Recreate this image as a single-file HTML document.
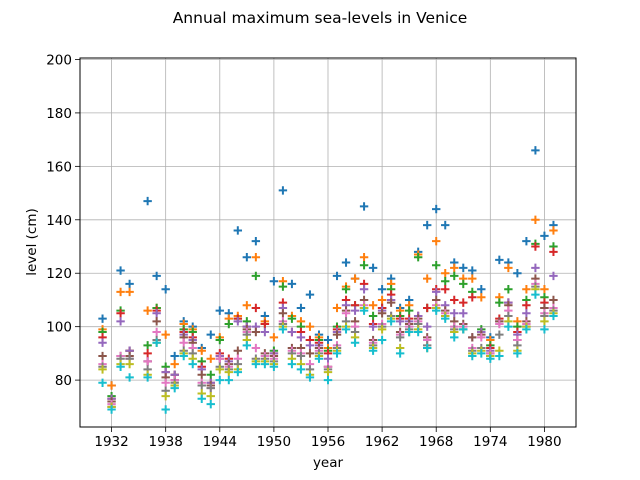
<!DOCTYPE html>
<html><head><meta charset="utf-8"><style>
body{margin:0;background:#fff;}
svg{display:block;font-family:"DejaVu Sans","Liberation Sans",sans-serif;}
</style></head><body>
<svg id="chart" width="640" height="480" viewBox="0 0 640 480" xmlns="http://www.w3.org/2000/svg">
<rect width="640" height="480" fill="#fff"/>
<text x="320" y="23" text-anchor="middle" font-size="15.5" fill="#000">Annual maximum sea-levels in Venice</text>
<g id="grid"></g>
<g id="marks"></g>
<rect x="80" y="58" width="496" height="369" fill="none" stroke="#000" stroke-width="1"/>
<g id="ticks"></g>
<text x="328" y="467" text-anchor="middle" font-size="13.5">year</text>
<text transform="translate(36,242) rotate(-90)" text-anchor="middle" font-size="13.5">level (cm)</text>
</svg>
<script>
const years = [1931,1932,1933,1934,1936,1937,1938,1939,1940,1941,1942,1943,1944,1945,1946,1947,1948,1949,1950,1951,1952,1953,1954,1955,1956,1957,1958,1959,1960,1961,1962,1963,1964,1965,1966,1967,1968,1969,1970,1971,1972,1973,1974,1975,1976,1977,1978,1979,1980,1981];
const levels = [
[103,99,98,96,94,89,86,85,84,79],
[78,78,74,73,73,72,71,70,70,69],
[121,113,106,105,102,89,89,88,86,85],
[116,113,91,91,91,89,88,88,86,81],
[147,106,93,90,87,87,87,84,82,81],
[119,107,107,106,105,102,98,95,94,94],
[114,97,85,83,83,81,79,76,74,69],
[89,86,82,82,82,80,80,79,78,77],
[102,101,99,98,97,96,94,91,90,89],
[100,99,98,96,95,94,92,90,88,86],
[92,91,87,85,84,82,79,78,75,73],
[97,88,82,79,79,78,77,77,74,71],
[106,96,95,90,89,88,88,85,84,80],
[105,103,101,88,87,86,85,84,83,80],
[136,104,103,103,102,91,88,86,84,83],
[126,108,102,100,100,99,98,97,95,93],
[132,126,119,107,100,98,92,88,87,86],
[104,102,101,101,98,90,89,88,87,86],
[117,96,91,90,90,89,88,87,86,85],
[151,117,115,109,107,105,102,101,100,99],
[116,104,103,98,98,92,91,90,88,86],
[107,102,100,98,96,92,90,89,86,84],
[112,100,95,95,93,90,86,84,82,81],
[97,96,95,94,93,92,91,90,89,88],
[95,92,91,90,88,85,85,84,83,80],
[119,107,100,99,98,97,93,92,91,90],
[124,115,114,110,108,106,105,102,100,99],
[118,118,108,108,106,102,100,98,96,94],
[145,126,123,116,114,110,108,107,107,106],
[122,108,104,101,100,95,94,93,92,91],
[114,110,107,107,106,105,101,100,99,95],
[118,116,114,112,110,109,104,104,103,102],
[107,106,104,103,102,98,97,96,92,90],
[110,108,106,103,102,101,100,99,98,98],
[128,127,126,104,104,103,102,101,99,98],
[138,118,107,107,100,96,95,93,92,92],
[144,132,123,114,113,110,108,107,107,106],
[138,120,117,114,108,106,105,104,104,103],
[124,122,119,110,105,102,100,99,98,96],
[122,118,116,109,105,101,100,99,99,99],
[121,118,113,111,96,96,92,91,90,89],
[114,111,99,98,98,97,96,92,91,90],
[96,95,93,92,91,90,90,89,89,88],
[125,111,109,103,102,102,101,97,91,89],
[124,122,114,109,109,108,106,104,102,100],
[120,102,100,98,97,95,95,93,91,90],
[132,114,110,108,105,102,101,100,100,99],
[166,140,131,130,122,118,116,115,114,112],
[134,114,111,109,107,107,105,104,102,99],
[138,136,130,128,119,110,107,106,105,104]
];
const xTicks = [1932,1938,1944,1950,1956,1962,1968,1974,1980];
const yTicks = [80,100,120,140,160,180,200];
const colors = ['#1f77b4','#ff7f0e','#2ca02c','#d62728','#9467bd','#8c564b','#e377c2','#7f7f7f','#bcbd22','#17becf'];

const NS='http://www.w3.org/2000/svg';
const X0=80,X1=576,Y0=58,Y1=427;
const xmin=1928.5,xmax=1983.5,ymin=62.45,ymax=200.55;
function xs(v){return X0+(v-xmin)/(xmax-xmin)*(X1-X0);}
function ys(v){return Y1-(v-ymin)/(ymax-ymin)*(Y1-Y0);}
function mk(tag,attrs,parent){const e=document.createElementNS(NS,tag);for(const k in attrs)e.setAttribute(k,attrs[k]);parent.appendChild(e);return e;}
const grid=document.getElementById('grid'),ticks=document.getElementById('ticks'),marks=document.getElementById('marks');
xTicks.forEach(t=>{
  const x=xs(t);
  const g=mk('line',{x1:x,x2:x,y1:Y0,y2:Y1,stroke:'#b0b0b0','stroke-width':0.8},grid);
  
  
  const tk=mk('line',{x1:x,x2:x,y1:Y1,y2:Y1+5,stroke:'#000','stroke-width':0.8},ticks);
  
  
  const lb=mk('text',{x:x,y:Y1+19,'text-anchor':'middle','font-size':'13.5'},ticks);
  lb.textContent=t;
  
  
});
yTicks.forEach(t=>{
  const y=ys(t);
  const g=mk('line',{x1:X0,x2:X1,y1:y,y2:y,stroke:'#b0b0b0','stroke-width':0.8},grid);
  
  
  const tk=mk('line',{x1:X0-5,x2:X0,y1:y,y2:y,stroke:'#000','stroke-width':0.8},ticks);
  
  
  const lb=mk('text',{x:X0-8,y:y+5,'text-anchor':'end','font-size':'13.5'},ticks);
  lb.textContent=t;
  
  
});
for(let r=0;r<10;r++){
  const g=mk('g',{stroke:colors[r],'stroke-width':2},marks);
  
  
  years.forEach((yr,i)=>{
    const v=levels[i][r];
    if(v==null)return;
    const x=xs(yr),y=ys(v);
    const p=mk('path',{d:`M${x-4.2},${y}H${x+4.2}M${x},${y-4.2}V${y+4.2}`,fill:'none'},g);
    
    
  });
}
</script>
</body></html>
